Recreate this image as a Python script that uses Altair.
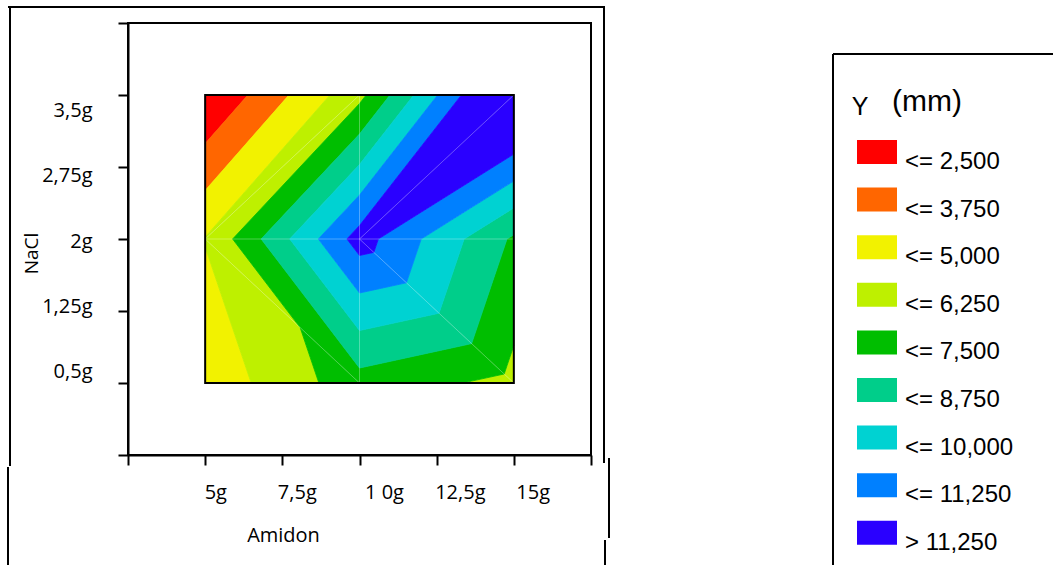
import math
from collections import Counter

import altair as alt
import pandas as pd

# ------------------------------------------------------------------ data
amidon_g = [5, 10, 15]              # Amidon levels (x)
nacl_g = [0.5, 2, 3.5]              # NaCl levels (y)
# Y (mm) measured at each grid node, one list per NaCl level, ordered by Amidon
y_at_nacl_05 = [4.15, 7.00, 5.88]
y_at_nacl_20 = [5.05, 11.80, 7.30]
y_at_nacl_35 = [1.20, 5.90, 14.00]
# triangulation of the 3x3 grid, nodes given as (amidon index, nacl index)
triangles = [
    ((0, 0), (1, 0), (0, 1)),
    ((1, 0), (1, 1), (0, 1)),
    ((1, 0), (2, 0), (1, 1)),
    ((2, 0), (2, 1), (1, 1)),
    ((0, 1), (1, 1), (1, 2)),
    ((0, 1), (1, 2), (0, 2)),
    ((1, 1), (2, 1), (2, 2)),
    ((1, 1), (2, 2), (1, 2)),
]
thresholds = [2.5, 3.75, 5.0, 6.25, 7.5, 8.75, 10.0, 11.25]
band_labels = ["<= 2,500", "<= 3,750", "<= 5,000", "<= 6,250", "<= 7,500",
               "<= 8,750", "<= 10,000", "<= 11,250", "> 11,250"]
band_colors = ["#FF0000", "#FF6600", "#F2F200", "#BEF000", "#00BE00",
               "#00CE8A", "#00D2D2", "#0080FF", "#2A00FF"]
x_tick_values = [2.5, 5, 7.5, 10, 12.5, 15, 17.5]
x_tick_labels = ["", "5g", "7,5g", "1 0g", "12,5g", "15g", ""]
y_tick_values = [-0.25, 0.5, 1.25, 2, 2.75, 3.5, 4.25]
y_tick_labels = ["", "0,5g", "1,25g", "2g", "2,75g", "3,5g", ""]
x_title = "Amidon"
y_title = "NaCl"
legend_title = "Y"
legend_unit = "(mm)"

# ------------------------------------------------------------------ style
AX_FONT = "Open Sans"
LG_FONT = "Liberation Sans Narrow, Arial Narrow, Liberation Sans"
x_label_shift = [0, -1, -5, 5, -2, 2, 0]
y_label_shift = [0, -6, 1, 8, 14, 21, 0]

# ------------------------------------------------- contour bands (linear on triangles)
grid_vals = [y_at_nacl_05, y_at_nacl_20, y_at_nacl_35]


def node(c, r):
    return (float(amidon_g[c]), float(nacl_g[r]), float(grid_vals[r][c]))


def clip(poly, f):
    out = []
    n = len(poly)
    for i in range(n):
        p, q = poly[i], poly[(i + 1) % n]
        fp, fq = f(p), f(q)
        if fp >= 0:
            out.append(p)
        if (fp >= 0) != (fq >= 0):
            t = fp / (fp - fq)
            out.append(tuple(p[k] + t * (q[k] - p[k]) for k in range(3)))
    return out


bounds = [-math.inf] + thresholds + [math.inf]
rows = []
pid = 0
for tri in triangles:
    pts = [node(*nd) for nd in tri]
    for b in range(len(band_labels)):
        lo, hi = bounds[b], bounds[b + 1]
        poly = pts
        if lo != -math.inf:
            poly = clip(poly, lambda p, lo=lo: p[2] - lo)
        if hi != math.inf and poly:
            poly = clip(poly, lambda p, hi=hi: hi - p[2])
        if len(poly) < 3:
            continue
        xs = sorted(set(round(p[0], 9) for p in poly))
        if xs[-1] - xs[0] < 1e-9:
            continue
        m = len(poly)
        for x in xs:
            ys = []
            for i in range(m):
                p, q = poly[i], poly[(i + 1) % m]
                x0, x1 = p[0], q[0]
                if min(x0, x1) - 1e-9 <= x <= max(x0, x1) + 1e-9:
                    if abs(x1 - x0) < 1e-12:
                        ys += [p[1], q[1]]
                    else:
                        ys.append(p[1] + (x - x0) / (x1 - x0) * (q[1] - p[1]))
            rows.append({"poly": pid, "band": band_labels[b], "x": x,
                         "y_lo": min(ys), "y_hi": max(ys)})
        pid += 1
bands_df = pd.DataFrame(rows)

edge_count = Counter()
for tri in triangles:
    for i in range(3):
        a, b2 = tri[i], tri[(i + 1) % 3]
        edge_count[tuple(sorted([a, b2]))] += 1
edges_df = pd.DataFrame([
    {"x": amidon_g[a[0]], "y": nacl_g[a[1]], "x2": amidon_g[e[0]], "y2": nacl_g[e[1]]}
    for (a, e), c in edge_count.items() if c == 2
])
frame_df = pd.DataFrame({"x": [min(amidon_g)], "x2": [max(amidon_g)],
                         "y": [min(nacl_g)], "y2": [max(nacl_g)]})


def expr_map(vals, outs, default):
    s = default
    for v, o in reversed(list(zip(vals, outs))):
        s = f"(datum.value == {v} ? {o} : {s})"
    return s


x_label_expr = expr_map(x_tick_values, [repr(t) for t in x_tick_labels], "''")
y_label_expr = expr_map(y_tick_values, [repr(t) for t in y_tick_labels], "''")
x_off_expr = expr_map(x_tick_values, [str(v) for v in x_label_shift], "0")
y_off_expr = expr_map(y_tick_values, [str(v) for v in y_label_shift], "0")

xs_scale = alt.Scale(domain=[2.5, 17.5], nice=False, zero=False)
ys_scale = alt.Scale(domain=[-0.25, 4.25], nice=False, zero=False)
color_scale = alt.Scale(domain=band_labels, range=band_colors)

x_axis = alt.Axis(values=x_tick_values, labelExpr=x_label_expr, grid=False,
                  tickSize=10, tickWidth=2, tickColor="black",
                  domainColor="black", domainWidth=2,
                  labelFont=AX_FONT, labelFontSize=20, labelColor="black",
                  labelAlign="left", labelBaseline="alphabetic", labelPadding=33,
                  labelOffset={"expr": x_off_expr}, labelFlush=False, labelOverlap=False,
                  title=x_title, titleFont=AX_FONT, titleFontSize=20,
                  titleFontWeight="normal", titleColor="black",
                  titleX=155, titleY=86, titleAlign="center", titleBaseline="alphabetic")
y_axis = alt.Axis(values=y_tick_values, labelExpr=y_label_expr, grid=False,
                  tickSize=10, tickWidth=2, tickColor="black",
                  domainColor="black", domainWidth=2,
                  labelFont=AX_FONT, labelFontSize=20, labelColor="black",
                  labelAlign="right", labelBaseline="alphabetic", labelPadding=26,
                  labelOffset={"expr": y_off_expr}, labelFlush=False, labelOverlap=False,
                  title=y_title, titleFont=AX_FONT, titleFontSize=19,
                  titleFontWeight="normal", titleColor="black", titleAngle=270,
                  titleX=-97, titleY=230, titleAlign="center", titleBaseline="middle")

areas = alt.Chart(bands_df).mark_area(orient="vertical", strokeWidth=0.8, opacity=1).encode(
    x=alt.X("x:Q", scale=xs_scale, axis=x_axis),
    y=alt.Y("y_lo:Q", scale=ys_scale, axis=y_axis, stack=None),
    y2="y_hi:Q",
    detail="poly:N",
    color=alt.Color("band:N", scale=color_scale, legend=None),
    stroke=alt.Stroke("band:N", scale=color_scale, legend=None),
)
grid_lines = alt.Chart(edges_df).mark_rule(color="white", opacity=0.3, strokeWidth=1).encode(
    x=alt.X("x:Q", scale=xs_scale, axis=x_axis),
    y=alt.Y("y:Q", scale=ys_scale, axis=None),
    x2="x2:Q", y2="y2:Q",
)
data_frame = alt.Chart(frame_df).mark_rect(fillOpacity=0, stroke="black", strokeWidth=2).encode(
    x=alt.X("x:Q", scale=xs_scale, axis=x_axis),
    y=alt.Y("y:Q", scale=ys_scale, axis=None),
    x2="x2:Q", y2="y2:Q",
)

# ------------------------------------------------------------------ legend
legend_df = pd.DataFrame({"band": band_labels})
leg_y = alt.Scale(type="point", domain=band_labels, range=[129, 509.8], padding=0)
swatches = alt.Chart(legend_df).mark_point(
    shape="M-1,-0.6H1V0.6H-1Z", size=1600, filled=True, opacity=1, strokeWidth=0
).encode(
    x=alt.value(749),
    y=alt.Y("band:N", scale=leg_y, axis=None),
    color=alt.Color("band:N", scale=color_scale, legend=None),
)
leg_text = alt.Chart(legend_df).mark_text(
    align="left", baseline="alphabetic", dy=17, font=LG_FONT, fontSize=24, color="black"
).encode(
    x=alt.value(777),
    y=alt.Y("band:N", scale=leg_y, axis=None),
    text="band:N",
)

title_y = alt.Chart(pd.DataFrame({"t": [legend_title]})).mark_text(
    align="center", baseline="alphabetic", font=LG_FONT, fontSize=25, color="black"
).encode(x=alt.value(732), y=alt.value(92), text="t:N")
title_unit = alt.Chart(pd.DataFrame({"t": [legend_unit]})).mark_text(
    align="left", baseline="alphabetic", font=LG_FONT, fontSize=30, color="black"
).encode(x=alt.value(764), y=alt.value(88), text="t:N")

# ------------------------------------------------------------------ frames
_one = pd.DataFrame({"k": [0]})


def frame_line(x1, y1, x2, y2, w=2):
    return alt.Chart(_one).mark_rule(color="black", strokeWidth=w).encode(
        x=alt.value(x1), y=alt.value(y1), x2=alt.value(x2), y2=alt.value(y2))


frames = [
    frame_line(-120, -16, 477, -16),
    frame_line(-118, -16, -118, 443),
    frame_line(-120, 444, -120, 542),
    frame_line(476, -16, 476, 440),
    frame_line(481, 435, 481, 515),
    frame_line(477, 517, 477, 542),
    frame_line(705, 31, 705, 542),
    frame_line(705, 31, 925, 31),
]

chart = alt.layer(
    areas, grid_lines, data_frame, swatches, leg_text, title_y, title_unit, *frames
).resolve_scale(
    y="independent"
).properties(
    width=463,
    height=432,
    autosize=alt.AutoSizeParams(type="none"),
    padding={"left": 128, "top": 23, "right": 462, "bottom": 110},
).configure_view(stroke="black", strokeWidth=2)

chart.save("out.html", embed_options={"renderer": "svg", "actions": False})
